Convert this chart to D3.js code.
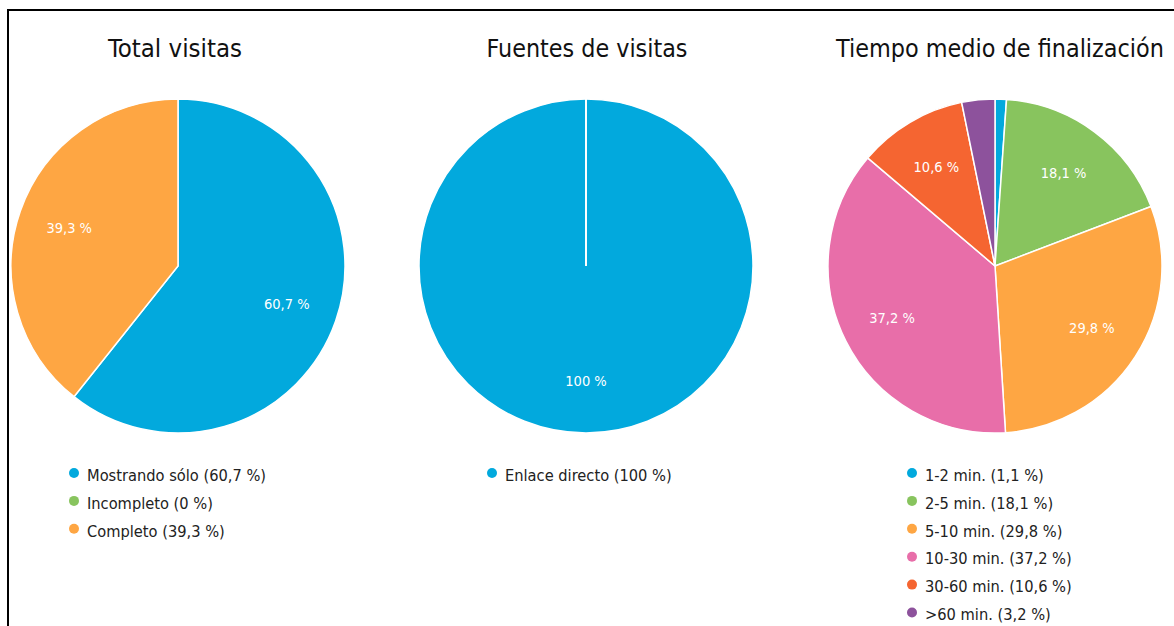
<!DOCTYPE html>
<html>
<head>
<meta charset="utf-8">
<script src="https://cdn.jsdelivr.net/npm/d3@7"></script>
<style>
  body { margin: 0; background: #fff; }
  svg { display: block; }
  .title { font-family: "DejaVu Sans", sans-serif; font-stretch: condensed; font-size: 28px; fill: #111; }
  .legend text { font-family: "DejaVu Sans", sans-serif; font-stretch: condensed; font-size: 16.3px; fill: #222; }
  .lbl { font-family: "DejaVu Sans", sans-serif; font-stretch: condensed; font-size: 14.5px; fill: #fff; }
</style>
</head>
<body>
<svg id="chart" width="1174" height="626"></svg>
<script>
// data
const titles = ["Total visitas", "Fuentes de visitas", "Tiempo medio de finalización"];

const visitasLabels = ["Mostrando sólo", "Incompleto", "Completo"];
const visitasValues = [60.7, 0, 39.3];
const visitasColors = ["#02a9dd", "#88c45e", "#fea643"];

const fuentesLabels = ["Enlace directo"];
const fuentesValues = [100];
const fuentesColors = ["#02a9dd"];

const tiempoLabels = ["1-2 min.", "2-5 min.", "5-10 min.", "10-30 min.", "30-60 min.", ">60 min."];
const tiempoValues = [1.1, 18.1, 29.8, 37.2, 10.6, 3.2];
const tiempoColors = ["#02a9dd", "#88c45e", "#fea643", "#e86ea9", "#f56531", "#8d529c"];

const svg = d3.select("#chart");

// frame
svg.append("rect")
    .attr("x", 8).attr("y", 10)
    .attr("width", 1300).attr("height", 800)
    .attr("fill", "none").attr("stroke", "#000").attr("stroke-width", 2);

function fmt(v) {
    return String(v).replace(".", ",") + " %";
}

// shrink/grow a text's font size so it spans the given width
function fitWidth(sel, width) {
    let node = sel.node();
    let size = parseFloat(getComputedStyle(node).fontSize);
    let w = node.getComputedTextLength();
    sel.style("font-size", (size * width / w).toFixed(2) + "px");
}

class PieChart {
    constructor(parent, cx, titleX, title, titleWidth, labels, values, colors, legendX) {
        this.g = parent.append("g");
        this.cx = cx;
        this.cy = 266;
        this.r = 167;

        let t = this.g.append("text")
            .attr("class", "title")
            .attr("x", titleX).attr("y", 57)
            .attr("text-anchor", "middle")
            .text(title);
        fitWidth(t, titleWidth);

        let data = labels.map(function (l, i) { return { label: l, value: values[i], color: colors[i] }; });

        let pie = d3.pie().sort(null).value(function (d) { return d.value; });
        let arc = d3.arc().innerRadius(0).outerRadius(this.r);
        let labelArc = d3.arc().innerRadius(this.r * 0.69).outerRadius(this.r * 0.69);

        let pg = this.g.append("g")
            .attr("transform", "translate(" + cx + "," + this.cy + ")");

        let arcs = pie(data).filter(function (d) { return d.data.value > 0; });

        pg.selectAll("path").data(arcs).enter().append("path")
            .attr("d", arc)
            .attr("fill", function (d) { return d.data.color; })
            .attr("stroke", "#fff")
            .attr("stroke-width", 1.5);

        // single slice: white radius line at the top like the original
        if (arcs.length === 1) {
            pg.append("line")
                .attr("x1", 0).attr("y1", 0)
                .attr("x2", 0).attr("y2", -this.r - 1)
                .attr("stroke", "#fff").attr("stroke-width", 2);
        }

        pg.selectAll(".lbl").data(arcs.filter(function (d) { return d.data.value >= 5; }))
            .enter().append("text")
            .attr("class", "lbl")
            .attr("text-anchor", "middle")
            .attr("dy", "0.35em")
            .attr("transform", function (d) { return "translate(" + labelArc.centroid(d) + ")"; })
            .text(function (d) { return fmt(d.data.value); });

        // legend
        let lg = this.g.append("g").attr("class", "legend");
        let items = lg.selectAll(".item").data(data).enter().append("g")
            .attr("class", "item")
            .attr("transform", function (d, i) { return "translate(" + legendX + "," + (475 + 27.9 * i) + ")"; });
        items.append("circle")
            .attr("cx", 0).attr("cy", -2).attr("r", 5)
            .attr("fill", function (d) { return d.color; });
        items.append("text")
            .attr("x", 13).attr("y", 0)
            .attr("dy", "0.35em")
            .text(function (d) { return d.label + " (" + fmt(d.value) + ")"; });
    }
}

new PieChart(svg, 178, 175, titles[0], 134, visitasLabels, visitasValues, visitasColors, 74);
new PieChart(svg, 586, 587, titles[1], 201, fuentesLabels, fuentesValues, fuentesColors, 492);
new PieChart(svg, 995, 1000, titles[2], 328, tiempoLabels, tiempoValues, tiempoColors, 912);
</script>
</body>
</html>
